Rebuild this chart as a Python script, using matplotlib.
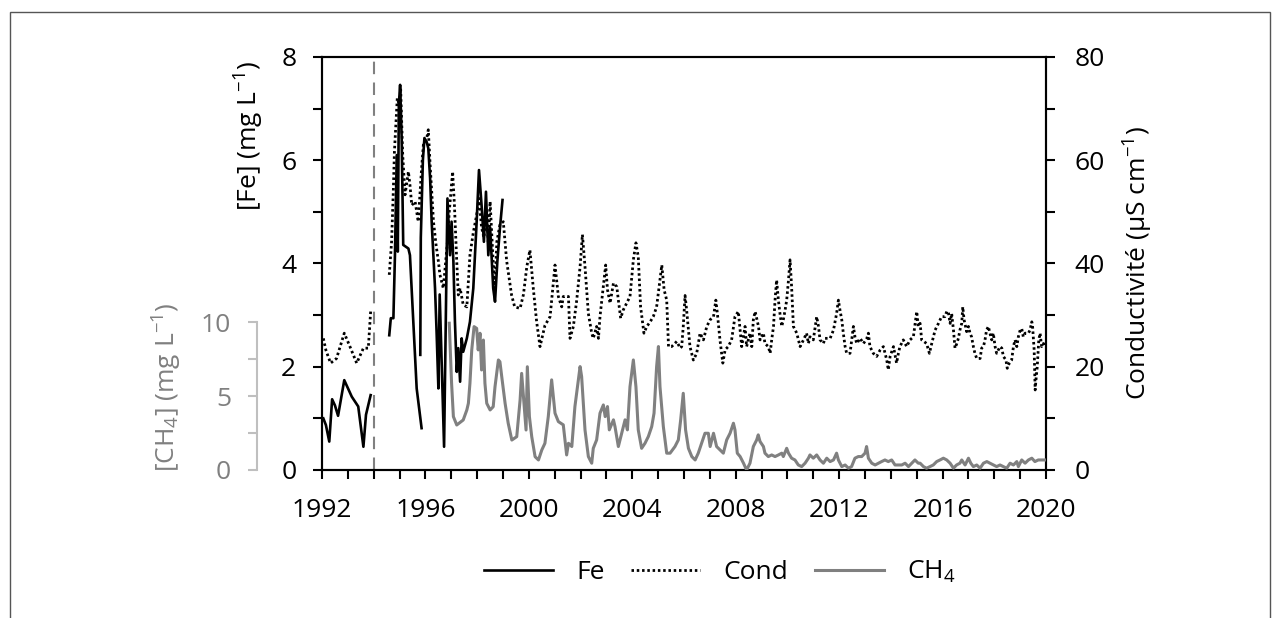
import numpy as np
import matplotlib
matplotlib.use('Agg')
import matplotlib.pyplot as plt
from matplotlib.ticker import MultipleLocator
from matplotlib.lines import Line2D

plt.rcParams['font.family'] = ['Open Sans', 'DejaVu Sans']
plt.rcParams['mathtext.default'] = 'regular'

nan = np.nan

# [Fe] (mg/L)
fe_years = [1992.05, 1992.15, 1992.28, 1992.39, 1992.50, 1992.62, 1992.86, 1993.15, 1993.40,
            1993.60, 1993.70, 1993.88, nan,
            1994.60, 1994.66, 1994.76, 1994.82, 1994.89, 1994.93, 1994.97, 1995.02, 1995.08,
            1995.14, 1995.34, 1995.40, 1995.53, 1995.66, 1995.85, nan,
            1995.80, 1995.82, 1995.90, 1995.96, 1996.05, 1996.11, 1996.18, 1996.24, 1996.37,
            1996.43, 1996.50, 1996.55, 1996.62, 1996.72, 1996.85, 1996.95, 1997.01, 1997.08,
            1997.14, 1997.21, 1997.27, 1997.34, 1997.40, 1997.46, 1997.60, 1997.72, 1997.85,
            1997.98, 1998.07, 1998.17, 1998.26, 1998.34, 1998.43, 1998.50, 1998.62, 1998.69,
            1998.78, 1998.88, 1998.98]
fe_vals = [1.00, 0.87, 0.55, 1.37, 1.25, 1.05, 1.74, 1.42, 1.23,
           0.45, 1.07, 1.45, nan,
           2.61, 2.94, 2.94, 4.16, 6.10, 4.23, 7.07, 7.46, 6.43,
           4.36, 4.29, 4.16, 2.87, 1.58, 0.81, nan,
           2.23, 4.50, 6.00, 6.43, 6.35, 6.23, 5.65, 4.81, 3.52,
           2.68, 1.58, 3.40, 2.20, 0.45, 5.26, 4.16, 4.81, 4.04,
           2.87, 1.90, 2.36, 1.71, 2.55, 2.29, 2.55, 2.87, 3.52,
           4.81, 5.81, 5.13, 4.42, 5.39, 4.16, 4.70, 3.52, 3.26,
           4.04, 4.68, 5.23]

# Conductivity (uS/cm)
cond_years = [1992.05, 1992.15, 1992.33, 1992.56, 1992.86, 1993.08, 1993.34, 1993.60, 1993.79,
              1993.88, nan,
              1994.60, 1994.69, 1994.76, 1994.80, 1994.86, 1994.91, 1994.99, 1995.04, 1995.12,
              1995.21, 1995.34, 1995.40, 1995.47, 1995.60, 1995.72, 1995.85, 1995.92, 1996.05,
              1996.11, 1996.18, 1996.31, 1996.41, 1996.50, 1996.56, 1996.69, 1996.85, 1996.92,
              1997.05, 1997.12, 1997.21, 1997.27, 1997.34, 1997.46, 1997.60, 1997.72, 1997.85,
              1997.98, 1998.07, 1998.17, 1998.26, 1998.37, 1998.43, 1998.50, 1998.63, 1998.69,
              1998.76, 1998.88, 1999.01, 1999.14, 1999.33, 1999.45, 1999.66, 1999.79, 1999.92,
              2000.04, 2000.17, 2000.30, 2000.43, 2000.62,
              2000.82, 2001.01, 2001.14, 2001.27, 2001.33, 2001.53, 2001.59, 2001.72, 2001.85,
              2001.98, 2002.07, 2002.17, 2002.30, 2002.43, 2002.49, 2002.62, 2002.69, 2002.75,
              2002.88, 2002.97, 2003.04, 2003.14, 2003.27, 2003.40, 2003.46, 2003.55, 2003.65,
              2003.78, 2003.91, 2004.04, 2004.14, 2004.23, 2004.32, 2004.45, 2004.56, 2004.69,
              2004.81, 2004.94, 2005.07, 2005.14, 2005.23, 2005.33, 2005.40, 2005.52, 2005.72,
              2005.85, 2005.91, 2005.97, 2006.04, 2006.10, 2006.23, 2006.36, 2006.49, 2006.62,
              2006.75, 2006.88, 2007.01, 2007.14, 2007.23, 2007.29, 2007.39, 2007.50, 2007.59,
              2007.71, 2007.84, 2007.97, 2008.10,
              2008.23, 2008.36, 2008.42, 2008.55, 2008.62, 2008.68, 2008.75, 2008.88, 2008.94,
              2009.07, 2009.13, 2009.26, 2009.33, 2009.39, 2009.46, 2009.52, 2009.58, 2009.65,
              2009.71, 2009.78, 2009.84, 2009.91, 2009.97, 2010.04, 2010.10, 2010.16, 2010.23,
              2010.36, 2010.49, 2010.62, 2010.74, 2010.81, 2010.87, 2011.00, 2011.13, 2011.20,
              2011.26, 2011.39, 2011.45, 2011.65, 2011.78, 2011.90, 2011.97, 2012.03, 2012.10,
              2012.16, 2012.23, 2012.29, 2012.42, 2012.55, 2012.61, 2012.68, 2012.81, 2012.94,
              2013.07, 2013.13, 2013.19, 2013.32, 2013.45, 2013.58, 2013.71, 2013.84, 2013.90,
              2013.97, 2014.10, 2014.22, 2014.29, 2014.35, 2014.48, 2014.61, 2014.74, 2014.87,
              2015.00, 2015.06,
              2015.13, 2015.19, 2015.38, 2015.49, 2015.58, 2015.71, 2015.84, 2015.96, 2016.09,
              2016.16, 2016.22, 2016.29, 2016.35, 2016.42, 2016.48, 2016.55, 2016.61, 2016.67,
              2016.74, 2016.78, 2016.83, 2016.93, 2017.00, 2017.06, 2017.12, 2017.19, 2017.25,
              2017.32, 2017.45, 2017.51, 2017.58, 2017.64, 2017.70, 2017.77, 2017.83, 2017.90,
              2017.96, 2018.03, 2018.09, 2018.22, 2018.29, 2018.35, 2018.45, 2018.50, 2018.58,
              2018.67, 2018.74, 2018.80, 2018.87, 2018.93, 2019.00, 2019.06, 2019.12, 2019.19,
              2019.32, 2019.38, 2019.45, 2019.48, 2019.54, 2019.58, 2019.61, 2019.66, 2019.72,
              2019.77, 2019.83, 2019.90, 2020.00]
cond_vals = [25.5, 23.2, 20.7, 21.6, 26.5, 23.9, 20.7, 23.6, 23.6,
             30.7, nan,
             37.8, 44.2, 54.6, 61.7, 67.5, 72.0, 70.7, 73.9, 61.0,
             53.3, 57.8, 55.2, 51.3, 52.0, 48.1, 58.4, 63.0, 64.3,
             65.9, 59.1, 48.1, 43.6, 40.4, 37.8, 35.2, 44.2, 50.0,
             57.8, 51.3, 40.4, 33.9, 35.2, 32.0, 31.6, 41.6, 46.0,
             49.4, 52.6, 47.0, 45.0, 50.0, 44.2, 52.0, 39.1, 35.2,
             44.2, 47.5, 48.1, 40.5, 33.9, 31.6, 31.3, 34.0, 39.4,
             42.6, 35.2, 28.7, 23.9, 28.0,
             29.7, 39.7, 33.6, 31.6, 33.6, 33.6, 25.5, 27.8, 32.9,
             39.4, 45.6, 39.4, 30.3, 26.5, 25.5, 27.8, 25.5, 29.7,
             35.5, 39.7, 34.9, 32.3, 36.2, 35.5, 32.9, 29.4, 31.0,
             32.3, 33.6, 40.7, 44.0, 41.3, 31.6, 26.5, 27.8, 28.7,
             29.7, 31.6, 36.8, 39.7, 34.9, 32.9, 23.9, 23.9, 24.9,
             23.6, 23.9, 27.8, 33.8, 31.0, 23.9, 21.3, 22.6, 26.5,
             25.2, 27.8, 29.1, 29.7, 32.9, 30.3, 25.2, 20.7, 23.3,
             23.9, 25.2, 29.7, 30.7,
             23.9, 27.8, 23.9, 26.5, 23.9, 29.1, 30.7, 27.8, 25.2,
             26.5, 24.5, 23.9, 22.6, 25.2, 27.8, 32.9, 36.8, 32.9,
             30.3, 27.8, 29.1, 31.0, 32.9, 36.8, 40.7, 35.5, 27.8,
             26.5, 23.9, 25.2, 26.5, 24.5, 25.8, 25.2, 29.7, 27.8,
             25.2, 24.5, 25.5, 25.5, 27.1, 30.3, 32.9, 31.0, 29.1,
             26.5, 23.9, 22.6, 22.6, 27.8, 25.8, 24.5, 25.5, 24.5,
             25.5, 26.5, 23.9, 22.6, 22.0, 23.2, 23.9, 21.3, 19.4,
             22.0, 23.9, 20.7, 22.6, 23.9, 25.2, 23.9, 25.2, 25.8,
             30.7, 27.8,
             28.4, 25.2, 24.5, 22.6, 24.5, 27.1, 28.4, 29.7, 29.7,
             30.7, 30.7, 28.4, 30.3, 27.1, 23.6, 24.5, 25.5, 27.1,
             28.4, 31.6, 29.1, 26.8, 27.8, 26.5, 25.8, 23.9, 22.6,
             21.6, 21.6, 23.6, 23.9, 25.2, 27.1, 27.8, 26.5, 25.2,
             26.5, 23.9, 22.6, 23.9, 23.6, 22.0, 21.3, 19.7, 20.7,
             21.3, 23.9, 25.2, 23.9, 25.8, 27.1, 27.4, 25.8, 26.5,
             26.5, 27.1, 28.7, 27.8, 23.3, 15.5, 17.4, 20.0, 25.2,
             26.5, 23.9, 24.5, 23.9]

# [CH4] (mg/L)
ch4_years = [1996.92, 1997.01, 1997.08, 1997.21, 1997.46, 1997.60, 1997.66, 1997.72, 1997.79,
             1997.88, 1997.98, 1998.04, 1998.11, 1998.17, 1998.24, 1998.30, 1998.37, 1998.50,
             1998.62, 1998.69, 1998.82, 1998.88, 1998.95, 1999.08, 1999.20, 1999.34, 1999.53,
             1999.66, 1999.72, 1999.81, 1999.89, 1999.94, 2000.02, 2000.11, 2000.24, 2000.37,
             2000.50, 2000.62, 2000.75,
             2000.88, 2001.01, 2001.14, 2001.33, 2001.46, 2001.53, 2001.66, 2001.78, 2001.98,
             2002.04, 2002.17, 2002.30, 2002.43, 2002.49, 2002.62, 2002.75, 2002.88, 2002.95,
             2003.04, 2003.11, 2003.27, 2003.33, 2003.46, 2003.59, 2003.72, 2003.81, 2003.91,
             2004.04, 2004.14, 2004.23, 2004.36, 2004.49, 2004.62, 2004.75, 2004.84, 2004.94,
             2005.01, 2005.07, 2005.20, 2005.33, 2005.46, 2005.65, 2005.78, 2005.87, 2005.97,
             2006.06, 2006.17, 2006.30, 2006.43, 2006.55, 2006.68, 2006.81, 2006.94, 2007.01,
             2007.14, 2007.26, 2007.39, 2007.52, 2007.65, 2007.78, 2007.91, 2007.97, 2008.06,
             2008.17, 2008.30, 2008.42, 2008.55, 2008.68, 2008.81, 2008.87, 2008.94, 2009.07,
             2009.13, 2009.26, 2009.39, 2009.52, 2009.65, 2009.78, 2009.84, 2009.97, 2010.04,
             2010.16, 2010.29, 2010.42, 2010.55, 2010.68, 2010.81, 2010.87, 2011.00, 2011.13,
             2011.26, 2011.39, 2011.52, 2011.65, 2011.78, 2011.90, 2011.97, 2012.10, 2012.23,
             2012.36, 2012.48, 2012.61, 2012.74, 2012.87, 2013.00, 2013.06, 2013.13, 2013.26,
             2013.39, 2013.52, 2013.64, 2013.77, 2013.90, 2014.03, 2014.16, 2014.29, 2014.42,
             2014.55, 2014.68, 2014.81, 2014.93, 2015.06,
             2015.13, 2015.26, 2015.38, 2015.51, 2015.64, 2015.77, 2015.90, 2016.03, 2016.16,
             2016.29, 2016.42, 2016.54, 2016.67, 2016.74, 2016.87, 2017.00, 2017.09, 2017.19,
             2017.32, 2017.45, 2017.58, 2017.71, 2017.83, 2017.96, 2018.09, 2018.22, 2018.35,
             2018.48, 2018.61, 2018.74, 2018.87, 2018.93, 2019.06, 2019.19, 2019.32, 2019.45,
             2019.57, 2019.70, 2019.83, 2020.00]
ch4_vals = [9.95, 5.88, 3.62, 3.05, 3.39, 4.07, 4.52, 5.88, 8.14,
            9.72, 9.60, 8.14, 9.27, 6.78, 8.81, 5.88, 4.52, 4.07,
            4.29, 5.65, 7.46, 7.34, 6.33, 4.52, 3.17, 2.03, 2.26,
            4.75, 6.55, 4.52, 2.71, 7.00, 3.62, 2.26, 0.90, 0.68,
            1.36, 1.81, 3.62,
            6.11, 3.85, 3.28, 3.06, 1.02, 1.81, 1.59, 4.30, 7.01,
            6.33, 2.72, 0.91, 0.46, 1.47, 2.04, 3.85, 4.41, 3.62,
            4.30, 2.72, 3.40, 2.94, 1.59, 2.49, 3.40, 2.72, 5.65,
            7.46, 5.65, 2.72, 1.47, 1.81, 2.27, 2.94, 3.85, 7.01,
            8.37, 5.65, 2.94, 1.14, 1.14, 1.59, 2.04, 3.40, 5.20,
            2.72, 1.47, 0.91, 0.68, 1.14, 1.81, 2.49, 2.49, 1.59,
            2.49, 1.59, 1.36, 1.14, 2.04, 2.49, 3.17, 2.72, 1.14,
            0.91, 0.46, 0.00, 0.46, 1.59, 2.04, 2.38, 1.93, 1.59,
            1.14, 0.91, 1.02, 0.91, 1.02, 1.14, 0.91, 1.47, 1.14,
            0.80, 0.68, 0.34, 0.23, 0.46, 0.80, 1.02, 0.80, 1.02,
            0.68, 0.46, 0.80, 0.57, 0.68, 1.14, 0.68, 0.23, 0.34,
            0.12, 0.23, 0.80, 0.91, 0.91, 1.14, 1.59, 0.80, 0.46,
            0.34, 0.46, 0.57, 0.68, 0.57, 0.68, 0.34, 0.34, 0.34,
            0.46, 0.23, 0.46, 0.68, 0.46,
            0.46, 0.23, 0.12, 0.23, 0.34, 0.57, 0.68, 0.80, 0.68,
            0.46, 0.12, 0.34, 0.46, 0.68, 0.34, 0.80, 0.46, 0.23,
            0.34, 0.12, 0.46, 0.57, 0.46, 0.34, 0.23, 0.34, 0.23,
            0.12, 0.46, 0.34, 0.57, 0.23, 0.68, 0.46, 0.68, 0.80,
            0.57, 0.68, 0.68, 0.68]

sampling_start = 1994.0

fig = plt.figure(figsize=(12.83, 6.18), dpi=100)
ax = fig.add_axes([0.251, 0.2395, 0.5643, 0.6683])
ax_cond = ax.twinx()
ax_ch4 = ax.twinx()

grey = '#808080'
light = '#bfbfbf'
fs = 19

ax.plot(fe_years, fe_vals, color='black', lw=1.9, zorder=3)
ax_cond.plot(cond_years, cond_vals, color='black', lw=2.0, linestyle=(0, (0.9, 1.0)))
ax_ch4.plot(ch4_years, ch4_vals, color=grey, lw=2.2)
ax.axvline(sampling_start, color=grey, lw=1.5, linestyle=(0, (6, 4)))

ax.set_xlim(1992, 2020)
ax.set_ylim(0, 8)
ax_cond.set_ylim(0, 80)
ax_ch4.set_ylim(0, 28)

ax.xaxis.set_major_locator(MultipleLocator(4))
ax.xaxis.set_minor_locator(MultipleLocator(1))
ax.yaxis.set_major_locator(MultipleLocator(2))
ax.yaxis.set_minor_locator(MultipleLocator(1))
ax_cond.yaxis.set_major_locator(MultipleLocator(20))
ax_cond.yaxis.set_minor_locator(MultipleLocator(10))

for a in (ax, ax_cond):
    a.tick_params(which='both', direction='out', length=6.5, width=1.5, labelsize=fs)
    for s in a.spines.values():
        s.set_linewidth(1.5)
ax.tick_params(axis='x', which='both', pad=14)
ax.tick_params(axis='y', which='both', pad=12)
ax_cond.tick_params(axis='y', which='both', pad=14)

# CH4 axis on the left, offset outward, spine limited to 0-10
ax_ch4.yaxis.set_ticks_position('left')
ax_ch4.yaxis.set_label_position('left')
for k in ('right', 'top', 'bottom'):
    ax_ch4.spines[k].set_visible(False)
ax_ch4.spines['left'].set_visible(True)
ax_ch4.spines['left'].set_position(('outward', 47))
ax_ch4.spines['left'].set_bounds(0, 10)
ax_ch4.spines['left'].set_color(light)
ax_ch4.spines['left'].set_linewidth(1.5)
ax_ch4.set_yticks([0, 5, 10])
ax_ch4.set_yticks([2.5, 7.5], minor=True)
ax_ch4.tick_params(which='both', direction='out', length=6.5, width=1.5, color=light,
                   labelcolor=grey, labelsize=fs, pad=12)

ax.set_ylabel('[Fe] (mg L$^{-1}$)', fontsize=fs)
ax.yaxis.set_label_coords(-0.078, 0.81)
ax_cond.set_ylabel('Conductivité (µS cm$^{-1}$)', fontsize=fs, labelpad=12)
ax_ch4.set_ylabel('[CH$_4$] (mg L$^{-1}$)', fontsize=fs, color=grey)
ax_ch4.yaxis.set_label_coords(-0.19, 0.20)

handles = [Line2D([], [], color='black', lw=1.9),
           Line2D([], [], color='black', lw=2.0, linestyle=(0, (0.9, 1.0))),
           Line2D([], [], color=grey, lw=2.2)]
fig.legend(handles, ['Fe', 'Cond', 'CH$_4$'], loc='center', ncol=3,
           bbox_to_anchor=(720 / 1283, 1 - 572 / 618), frameon=False, fontsize=fs,
           handlelength=2.6, handletextpad=0.9, columnspacing=1.0)

fig.add_artist(plt.Rectangle((10 / 1283, -0.1), 1260 / 1283, 1.1 - 12 / 618,
                             transform=fig.transFigure, fill=False, edgecolor='#555555', lw=1))

fig.savefig('out.png', dpi=100)
